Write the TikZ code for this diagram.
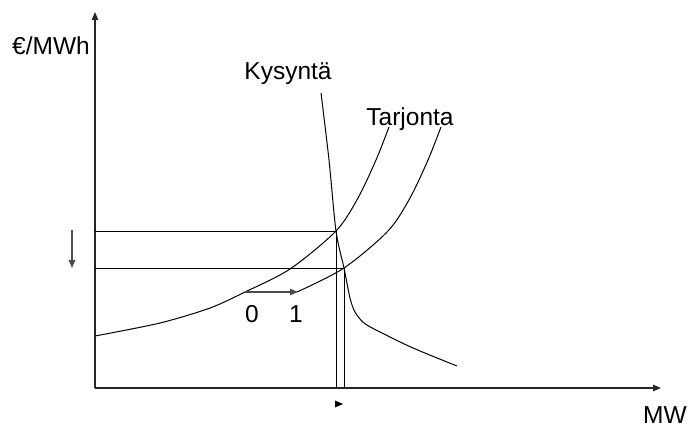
\documentclass[tikz,border=0pt]{standalone}
\usepackage{fontspec}
\setmainfont{Liberation Sans}
\usetikzlibrary{arrows.meta}
\tikzset{
  lbl/.style={inner sep=0pt, anchor=base, font=\fontsize{24.5}{28}\selectfont},
  axisline/.style={line width=1.2pt, black!85, -{Triangle[length=8pt,width=6.5pt]}},
  shiftarrow/.style={line width=1.3pt, black!70, -{Triangle[length=8pt,width=6.5pt]}},
  curve/.style={line width=1pt, black},
  guide/.style={line width=0.9pt, black}
}
\begin{document}
\begin{tikzpicture}[x=1pt,y=-1pt]
\useasboundingbox (0,0) rectangle (688,428);
% axes
\coordinate (O) at (95,388);
\coordinate (ytop) at (95,12);
\coordinate (xend) at (661,388);
\draw[axisline] (O) -- (ytop);
\draw[axisline] (O) -- (xend);
% labels
\node[lbl] (eur) at (51,55) {€/MWh};
\node[lbl] (mw) at (665,423) {MW};
\node[lbl] (kys) at (288,79) {Kysyntä};
\node[lbl] (tar) at (410,125) {Tarjonta};
\node[lbl] (l0) at (252,322) {0};
\node[lbl] (l1) at (296,322) {1};
% intersection points
\coordinate (p0) at (336,231);
\coordinate (p1) at (344,268);
\coordinate (ax0) at (95,231);
\coordinate (ax1) at (95,268);
\coordinate (bx0) at (336,388);
\coordinate (bx1) at (344,388);
% guide lines
\draw[guide] (ax0) -- (p0) -- (bx0);
\draw[guide] (ax1) -- (p1) -- (bx1);
% supply curves
\draw[curve] plot[smooth] coordinates {(95,336) (160,323) (210,308) (245,292) (290,269) (336,231) (358,198) (376,160) (389,127)};
\draw[curve] plot[smooth] coordinates {(297,292) (344,268) (388,231) (410,198) (428,160) (441,127)};
% demand curve
\draw[curve] plot[smooth] coordinates {(321,93) (329,160) (336,231) (344,268) (350,298) (355,312) (364,323) (380,332) (413,348) (457,366)};
% shift arrows
\coordinate (s0) at (245,292);
\coordinate (s1) at (298,292);
\draw[shiftarrow] (s0) -- (s1);
\coordinate (d0) at (72,230);
\coordinate (d1) at (72,268);
\draw[shiftarrow] (d0) -- (d1);
% small marker
\fill[black] (335,400.5) -- (343,404) -- (335,407.5) -- cycle;
\end{tikzpicture}
\end{document}
